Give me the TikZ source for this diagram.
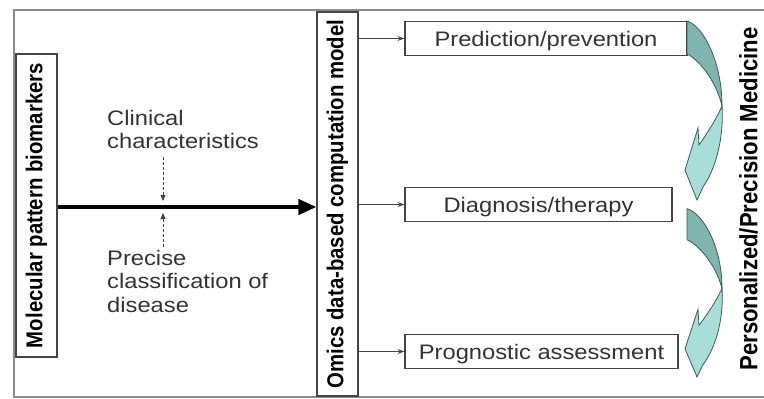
\documentclass[tikz,border=0pt]{standalone}
\usepackage{fontspec}
\setmainfont{Liberation Sans}[FakeStretch=1.13]
\newfontfamily\vertfont{Liberation Sans}[FakeStretch=0.885]
\usetikzlibrary{arrows.meta}
\definecolor{framegray}{HTML}{8C8C8C}
\definecolor{boxgray}{HTML}{454545}
\definecolor{txtgray}{HTML}{333333}
\definecolor{tealdark}{HTML}{80B4AE}
\definecolor{teallight}{HTML}{A8DED7}
\definecolor{tealline}{HTML}{3C5C58}

% one bent arrow at the right side
\newcommand{\tealbend}{%
  \filldraw[bendpart, fill=tealdark] (687,21) .. controls (702,25) and (722,60) .. (722,106)
    .. controls (716,80) and (698,59) .. (687,54) -- cycle;
  \filldraw[bendpart, fill=teallight] (722,106) .. controls (724,140) and (715,170) .. (703,187)
    -- (697,200) -- (685,170) -- (698,128) -- (699,145)
    .. controls (706,135) and (716,120) .. (722,106) -- cycle;
}

\begin{document}
\begin{tikzpicture}[x=1pt, y=-1pt,
    frame/.style={draw=framegray, line width=1.6pt},
    vbox/.style={draw=boxgray, line width=1.1pt, rotate=90, inner sep=0pt, minimum height=41pt,
      font=\vertfont\bfseries\fontsize{23}{27}\selectfont},
    outbox/.style={draw=boxgray, line width=1.1pt, inner sep=0pt, minimum height=34pt,
      text depth=0pt, text=txtgray, font=\fontsize{21}{25}\selectfont},
    note/.style={anchor=north west, align=left, inner sep=0pt, text=txtgray,
      font=\fontsize{21}{23.5}\selectfont},
    bigarrow/.style={line width=4pt, -{Triangle[length=18pt,width=15pt]}},
    feed/.style={draw=boxgray, line width=0.9pt, dash pattern=on 3pt off 2pt,
      -{Triangle[length=6pt,width=5pt]}},
    link/.style={draw=boxgray, line width=1pt, -{Stealth[length=7pt,width=5pt]}},
    bendpart/.style={draw=tealline, line width=0.8pt}]
  \clip (0,0) rectangle (764,399);
  \fill[white] (0,0) rectangle (764,399);
  \draw[frame] (14,10) rectangle (790,397);

  % input and model
  \node[vbox, minimum width=303pt] (mol) at (36.5,205.5) {Molecular pattern biomarkers};
  \node[vbox, minimum width=384pt] (omics) at (337.5,204) {Omics data-based computation model};
  \coordinate (hit) at (163,207);
  \draw[bigarrow] (mol.south |- hit) -- (omics.north |- hit);

  \node[note] (clin) at (107,110) {Clinical\\characteristics};
  \node[note] (prec) at (107,250) {Precise\\classification of\\disease};
  \draw[feed] (clin.south -| hit) ++(0,8) -- ([yshift=6pt]hit);
  \draw[feed] (prec.north -| hit) ++(0,-3) -- ([yshift=-6pt]hit);

  % outcomes
  \node[outbox, minimum width=282pt] (pred) at (546,38.5) {Prediction/prevention};
  \node[outbox, minimum width=267pt] (diag) at (538.5,204.5) {Diagnosis/therapy};
  \node[outbox, minimum width=273pt] (prog) at (541.5,351.5) {Prognostic assessment};
  \foreach \b in {pred,diag,prog}
    \draw[link] (omics.south |- \b.west) -- (\b.west);

  \tealbend
  \begin{scope}[shift={(0,189)}, yscale=0.94]
    \tealbend
  \end{scope}

  \node[rotate=90, anchor=north, inner sep=0pt,
    font=\vertfont\bfseries\fontsize{25}{30}\selectfont] (pm) at (739,199) {Personalized/Precision Medicine};
\end{tikzpicture}
\end{document}
